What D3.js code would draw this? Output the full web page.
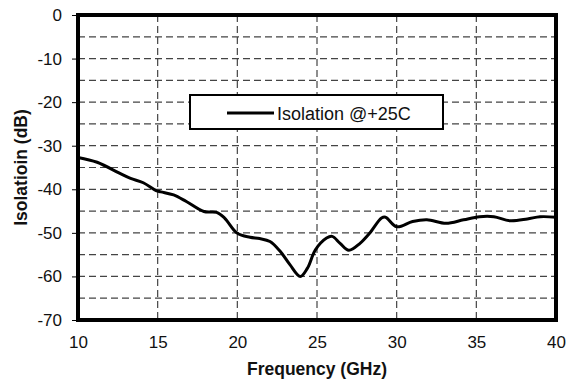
<!DOCTYPE html>
<html>
<head>
<meta charset="utf-8">
<script src="https://cdn.jsdelivr.net/npm/d3@7"></script>
<style>
  body { margin: 0; background: #fff; }
  text { font-family: "Liberation Sans", Arial, sans-serif; fill: #111; }
</style>
</head>
<body>
<svg id="chart"></svg>
<script>
// values
const freqGHz = [10, 11.2, 12.6, 13.3, 14.1, 14.9, 15.2, 16.0, 16.8, 17.9, 18.7, 19.2, 20.0, 20.8, 21.4, 22.05,
    22.7, 23.3, 23.95, 24.4, 24.9, 25.6, 25.95, 26.45, 27.0, 27.7, 28.3, 29.05, 29.3, 30.0, 31.0, 31.9,
    33.1, 34.2, 35.2, 36.1, 37.1, 38.2, 39.0, 40.0];
const isolationDb = [-32.7, -33.8, -36.3, -37.5, -38.5, -40.3, -40.6, -41.3, -42.8, -45.1, -45.3, -46.6, -50.1, -51.0, -51.3, -52.0,
    -54.3, -57.3, -60.0, -58.1, -53.9, -51.2, -50.8, -52.4, -54.0, -52.4, -50.1, -46.6, -46.4, -48.6, -47.4, -47.0,
    -47.8, -47.0, -46.3, -46.3, -47.2, -46.8, -46.3, -46.4];
const xTicks = [10, 15, 20, 25, 30, 35, 40];
const yTicks = [0, -10, -20, -30, -40, -50, -60, -70];
const yGrid = d3.range(0, -75, -5);
const seriesName = "Isolation @+25C";

const width = 568, height = 384;
const margin = {top: 15, right: 12, bottom: 64, left: 78};

const svg = d3.select("#chart").attr("width", width).attr("height", height);

const x = d3.scaleLinear().domain([10, 40]).range([margin.left, width - margin.right]);
const y = d3.scaleLinear().domain([-70, 0]).range([height - margin.bottom, margin.top]);

// plain hyphen minus, like the original
const plain = d => String(d);

// dashed grid
const grid = svg.append("g")
    .attr("stroke", "#444")
    .attr("stroke-width", 1.2)
    .attr("stroke-dasharray", "7,4");
grid.selectAll(".h").data(yGrid).join("line")
    .attr("x1", x(10)).attr("x2", x(40))
    .attr("y1", d => y(d)).attr("y2", d => y(d));
grid.selectAll(".v").data(xTicks.slice(1, -1)).join("line")
    .attr("x1", d => x(d)).attr("x2", d => x(d))
    .attr("y1", y(0)).attr("y2", y(-70));

// y axis ticks + labels
const yAxis = svg.append("g")
    .attr("transform", `translate(${x(10)},0)`)
    .call(d3.axisLeft(y).tickValues(yTicks).tickSize(6).tickPadding(10).tickFormat(plain));
yAxis.select(".domain").remove();
yAxis.selectAll("line").attr("stroke", "#000");
yAxis.selectAll("text").style("font-size", "17px").attr("fill", "#111")
    .style("font-family", "'Liberation Sans', Arial, sans-serif");

// x axis labels (no tick marks)
const xAxis = svg.append("g")
    .attr("transform", `translate(0,${y(-70)})`)
    .call(d3.axisBottom(x).tickValues(xTicks).tickSize(0).tickPadding(16).tickFormat(plain));
xAxis.select(".domain").remove();
xAxis.selectAll("text").style("font-size", "17px").attr("fill", "#111")
    .style("font-family", "'Liberation Sans', Arial, sans-serif");

// the curve
const line = d3.line()
    .x((d, i) => x(freqGHz[i]))
    .y(d => y(d))
    .curve(d3.curveCatmullRom.alpha(0.5));
svg.append("path")
    .datum(isolationDb)
    .attr("d", line)
    .attr("fill", "none")
    .attr("stroke", "#000")
    .attr("stroke-width", 3)
    .attr("stroke-linejoin", "round");

// legend
const lg = svg.append("g");
lg.append("rect")
    .attr("x", 190).attr("y", 95).attr("width", 253).attr("height", 34)
    .attr("fill", "#fff").attr("stroke", "#000").attr("stroke-width", 2);
lg.append("line")
    .attr("x1", 227).attr("x2", 274).attr("y1", 113).attr("y2", 113)
    .attr("stroke", "#000").attr("stroke-width", 3);
lg.append("text")
    .attr("x", 277).attr("y", 119.5)
    .style("font-size", "18px")
    .text(seriesName);

// thick frame
svg.append("rect")
    .attr("x", x(10)).attr("y", y(0))
    .attr("width", x(40) - x(10)).attr("height", y(-70) - y(0))
    .attr("fill", "none").attr("stroke", "#000").attr("stroke-width", 4);

// axis titles
svg.append("text")
    .attr("x", (x(10) + x(40)) / 2).attr("y", 375)
    .attr("text-anchor", "middle")
    .style("font-size", "17.5px").style("font-weight", "bold")
    .text("Frequency (GHz)");
svg.append("text")
    .attr("transform", `translate(27,${(y(0) + y(-70)) / 2}) rotate(-90)`)
    .attr("text-anchor", "middle")
    .style("font-size", "17.5px").style("font-weight", "bold")
    .text("Isolatioin (dB)");
</script>
</body>
</html>
